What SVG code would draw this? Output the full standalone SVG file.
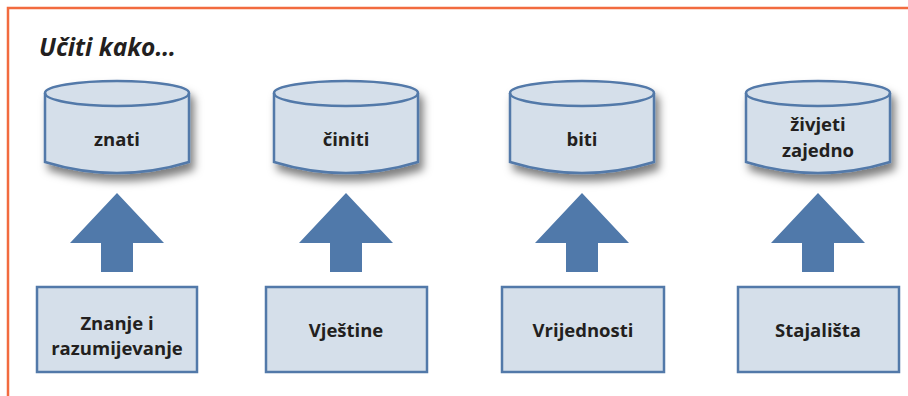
<svg xmlns="http://www.w3.org/2000/svg" width="908" height="396" viewBox="0 0 908 396">
<defs>
<filter id="sh" x="-20%" y="-20%" width="150%" height="170%">
<feDropShadow dx="4" dy="7" stdDeviation="4" flood-color="#000" flood-opacity="0.5"/>
</filter>
<style>
.shape{fill:#d5dfea;stroke:#5279a9;stroke-width:2.5}
.rim{fill:none;stroke:#5279a9;stroke-width:2.5}
.arrow{fill:#5079aa}
.lbl{font-family:"Open Sans","Liberation Sans",sans-serif;font-weight:bold;font-size:18.5px;fill:#231f20;text-anchor:middle}
.title{font-family:"Open Sans","Liberation Sans",sans-serif;font-weight:bold;font-style:italic;font-size:24.5px;fill:#231f20}
</style>
</defs>
<rect width="908" height="396" fill="#fff"/>
<path d="M8,396 V8 H908" fill="none" stroke="#f26b3f" stroke-width="2.5"/>
<text class="title" x="39" y="56">Učiti kako…</text>

<g id="cyl-znati">
<path class="shape" filter="url(#sh)" d="M45,93 A72,12 0 0 1 189,93 L189,162 Q117,184 45,162 Z"/>
<path class="rim" d="M45,93 A72,13 0 0 0 189,93"/>
<text class="lbl" x="117" y="146">znati</text>
</g>
<g id="cyl-ciniti">
<path class="shape" filter="url(#sh)" d="M274,93 A72,12 0 0 1 418,93 L418,162 Q346,184 274,162 Z"/>
<path class="rim" d="M274,93 A72,13 0 0 0 418,93"/>
<text class="lbl" x="346" y="146">činiti</text>
</g>
<g id="cyl-biti">
<path class="shape" filter="url(#sh)" d="M510,93 A72,12 0 0 1 654,93 L654,162 Q582,184 510,162 Z"/>
<path class="rim" d="M510,93 A72,13 0 0 0 654,93"/>
<text class="lbl" x="582" y="146">biti</text>
</g>
<g id="cyl-zivjeti">
<path class="shape" filter="url(#sh)" d="M746,93 A72,12 0 0 1 890,93 L890,162 Q818,184 746,162 Z"/>
<path class="rim" d="M746,93 A72,13 0 0 0 890,93"/>
<text class="lbl" x="818" y="131">živjeti</text>
<text class="lbl" x="818" y="157">zajedno</text>
</g>

<g id="connectors">
<path class="arrow" d="M117,193 L164,243 L133,243 L133,272 L101,272 L101,243 L70,243 Z"/>
<path class="arrow" d="M346,193 L393,243 L362,243 L362,272 L330,272 L330,243 L299,243 Z"/>
<path class="arrow" d="M582,193 L629,243 L598,243 L598,272 L566,272 L566,243 L535,243 Z"/>
<path class="arrow" d="M818,193 L865,243 L834,243 L834,272 L802,272 L802,243 L771,243 Z"/>
</g>

<g id="box-znanje">
<rect class="shape" x="37" y="287" width="160" height="85"/>
<text class="lbl" x="117" y="330">Znanje i</text>
<text class="lbl" x="117" y="355">razumijevanje</text>
</g>
<g id="box-vjestine">
<rect class="shape" x="266" y="287" width="161" height="85"/>
<text class="lbl" x="346" y="337">Vještine</text>
</g>
<g id="box-vrijednosti">
<rect class="shape" x="502" y="287" width="162" height="85"/>
<text class="lbl" x="583" y="337">Vrijednosti</text>
</g>
<g id="box-stajalista">
<rect class="shape" x="738" y="287" width="161" height="85"/>
<text class="lbl" x="818" y="337">Stajališta</text>
</g>
</svg>
